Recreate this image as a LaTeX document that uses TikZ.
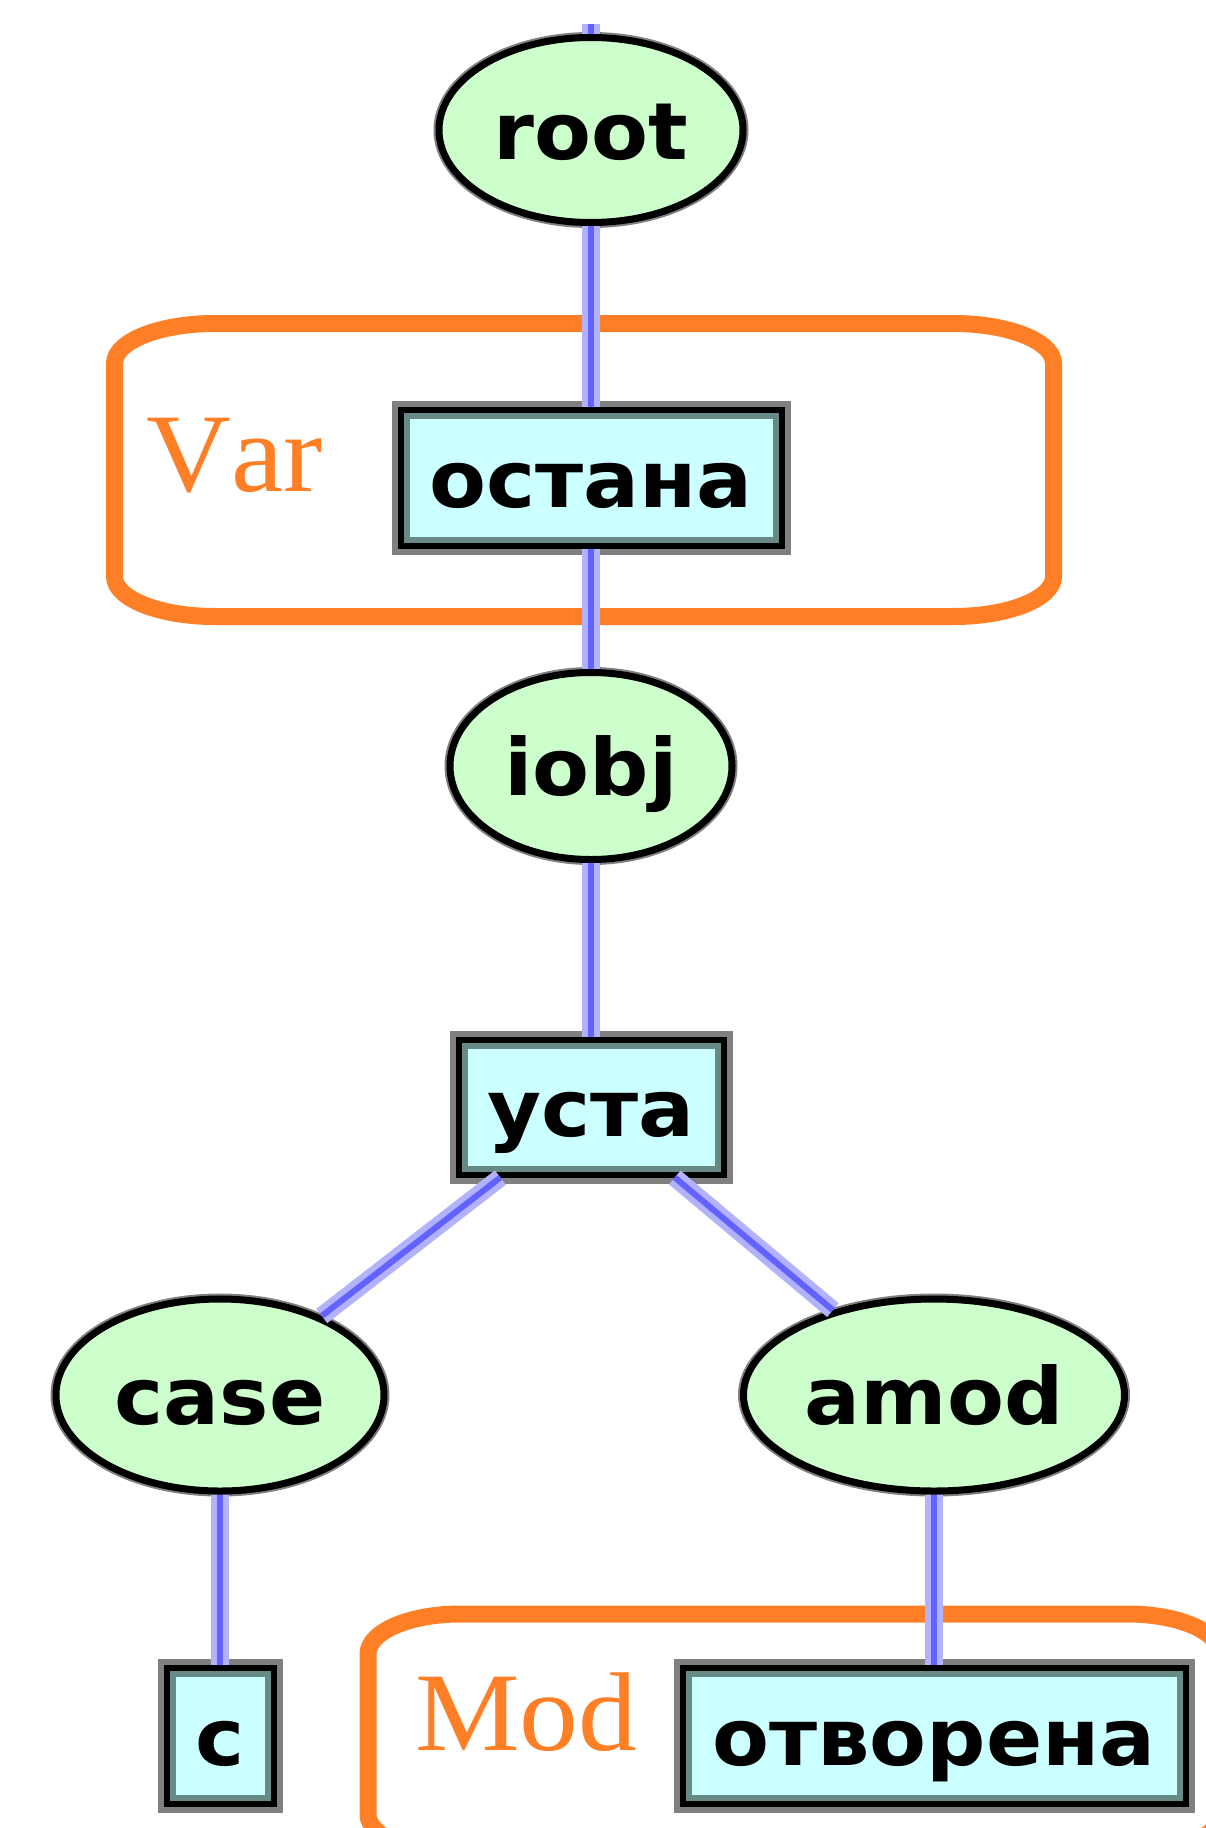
\documentclass[tikz,border=0pt]{standalone}
\usepackage{fontspec}
\usetikzlibrary{shapes.geometric}
\newfontfamily\labelfont[FakeStretch=1.05]{DejaVu Sans}
\newfontfamily\tagfont[Kerning=Off,FakeStretch=1.05]{Liberation Serif}

\definecolor{relfill}{RGB}{204,255,204}
\definecolor{wordfill}{RGB}{204,255,255}
\definecolor{innerteal}{RGB}{104,138,134}
\definecolor{edgegray}{RGB}{128,128,128}
\definecolor{linklight}{RGB}{178,178,255}
\definecolor{linkdark}{RGB}{98,98,255}
\definecolor{tagorange}{RGB}{255,127,39}

\tikzset{
  labeltext/.style={font=\labelfont\bfseries\fontsize{79pt}{80pt}\selectfont,
    text height=58pt, text depth=0pt, inner sep=0pt},
  rel/.style={ellipse, labeltext, draw=black, line width=7pt, fill=relfill,
    preaction={draw=edgegray, line width=11pt}},
  word/.style={rectangle, labeltext, draw=black, line width=6pt, fill=wordfill,
    preaction={draw=edgegray, line width=18pt},
    path picture={\draw[innerteal, line width=6pt]
      ([shift={(6pt,6pt)}]path picture bounding box.south west) rectangle
      ([shift={(-6pt,-6pt)}]path picture bounding box.north east);}},
  conn/.style={draw=linklight, line width=6pt, double=linkdark, double distance=6pt},
  group/.style={draw=tagorange, line width=17pt},
  tag/.style={anchor=base west, inner sep=0pt, text=tagorange,
    font=\tagfont\fontsize{112pt}{112pt}\selectfont},
}

% rounded frame with elliptical corners: x1,y1,x2,y2,rx,ry
\newcommand{\groupframe}[7][]{%
  \draw[group,#1] (#2,#5-#7) -- (#2,#3+#7)
    arc[start angle=180, end angle=270, x radius=#6, y radius=#7]
    -- (#4-#6,#3)
    arc[start angle=270, end angle=360, x radius=#6, y radius=#7]
    -- (#4,#5-#7)
    arc[start angle=0, end angle=90, x radius=#6, y radius=#7]
    -- (#2+#6,#5)
    arc[start angle=90, end angle=180, x radius=#6, y radius=#7]
    -- cycle;}

\begin{document}
\begin{tikzpicture}[x=1pt, y=-1pt]
  \useasboundingbox (0,0) rectangle (1206,1828);
  \clip (0,0) rectangle (1206,1828);
  \fill[white] (0,0) rectangle (1206,1828);

  % annotation frames
  \groupframe{114.5}{323.5}{1053.5}{616.5}{100}{40}
  \groupframe{368}{1614}{1220}{1854}{92}{40}
  \node[tag] (vartag) at (146,491) {Var};
  \node[tag] (modtag) at (415,1750) {Mod};

  % dependency tree
  \coordinate (top) at (591,24);
  \node[rel,  minimum width=304pt, minimum height=185pt] (root)     at (591,130)  {root};
  \node[word, minimum width=381pt, minimum height=136pt] (ostana)   at (591,478)  {остана};
  \node[rel,  minimum width=282pt, minimum height=187pt] (iobj)     at (591,766)  {iobj};
  \node[word, minimum width=265pt, minimum height=135pt] (usta)     at (591,1107) {уста};
  \node[rel,  minimum width=328pt, minimum height=192pt] (case)     at (220,1395) {case};
  \node[rel,  minimum width=381pt, minimum height=192pt] (amod)     at (934,1395) {amod};
  \node[word, minimum width=107pt, minimum height=136pt] (s)        at (220,1736) {с};
  \node[word, minimum width=503pt, minimum height=136pt] (otvorena) at (934,1736) {отворена};

  \draw[conn] (top) -- (root);
  \draw[conn] (root) -- (ostana);
  \draw[conn] (ostana) -- (iobj);
  \draw[conn] (iobj) -- (usta);
  \draw[conn] (usta) -- (case);
  \draw[conn] (usta) -- (amod);
  \draw[conn] (case) -- (s);
  \draw[conn] (amod) -- (otvorena);
\end{tikzpicture}
\end{document}
